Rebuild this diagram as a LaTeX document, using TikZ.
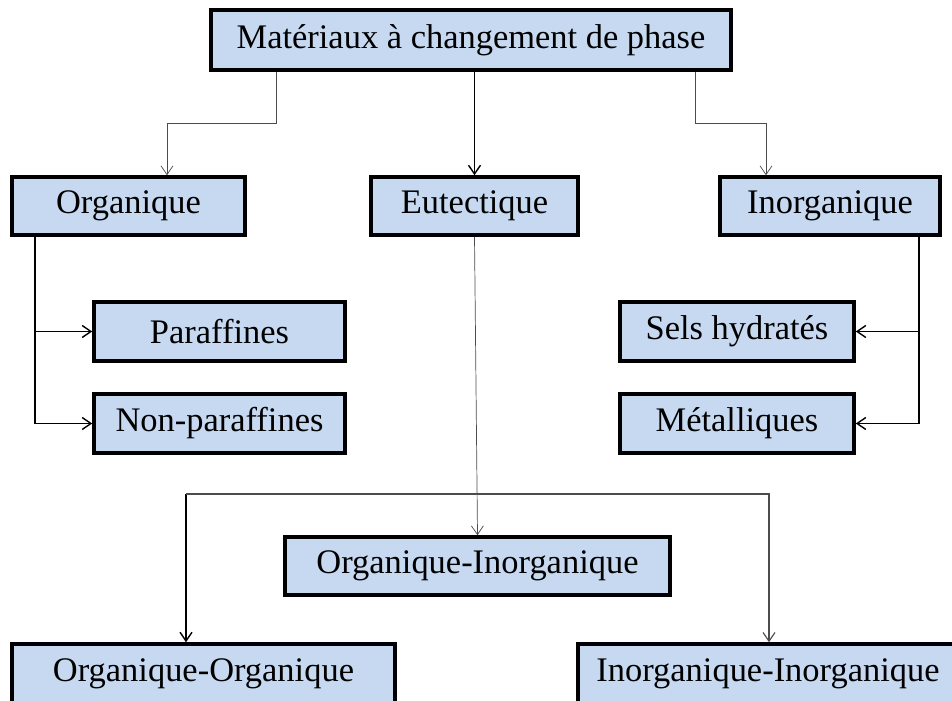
\documentclass[tikz,border=0pt]{standalone}
\usepackage{fontspec}
\setmainfont{Liberation Serif}
\usepackage{tikz}
\usetikzlibrary{arrows.meta}
\definecolor{boxblue}{RGB}{198,217,240}
\tikzset{pcmbox/.style={draw=black, line width=2.5pt, fill=boxblue, inner sep=0pt, minimum height=#1*0.025cm, font=\fontsize{24.5}{28}\selectfont}}
\tikzset{pcmbox/.default=58}
\tikzset{link/.style={line width=0.7pt, -{Straight Barb[length=2.2mm, width=3mm]}}}
\tikzset{linkthin/.style={link, line width=0.5pt, draw=black!70}}

\begin{document}
\begin{tikzpicture}[x=0.025cm, y=-0.025cm]
            \useasboundingbox (0, 0) rectangle (952, 701);
            \node[pcmbox=60, minimum width=13cm] (mcp) at (471, 40) {Matériaux à changement de phase};
            \node[pcmbox, minimum width=5.825cm] (org) at (128.5, 206) {Organique};
            \node[pcmbox, minimum width=5.175cm] (eut) at (474.5, 206) {Eutectique};
            \node[pcmbox, minimum width=5.5cm] (inorg) at (830, 206) {Inorganique};
            \node[pcmbox=59, minimum width=6.275cm] (par) at (219.5, 331.5) {Paraffines};
            \node[pcmbox=59, minimum width=6.275cm] (nonpar) at (219.5, 423.5) {Non-paraffines};
            \node[pcmbox=59, minimum width=5.85cm] (sels) at (737, 331.5) {Sels hydratés};
            \node[pcmbox=59, minimum width=5.85cm] (met) at (737, 423.5) {Métalliques};
            \node[pcmbox, minimum width=9.625cm] (oi) at (477.5, 566) {Organique-Inorganique};
            \node[pcmbox=60, minimum width=9.575cm] (oo) at (203.5, 674) {Organique-Organique};
            \node[pcmbox=60, minimum width=9.5cm] (ii) at (768, 674) {Inorganique-Inorganique};
            % points de coude
            \coordinate (kl) at (276, 123);
            \coordinate (kl2) at (167, 123);
            \coordinate (kr) at (695, 123);
            \coordinate (kr2) at (766, 123);
            \coordinate (vo) at (35, 0);
            \coordinate (vi) at (919, 0);
            \coordinate (bl) at (186, 494);
            \coordinate (br) at (769, 494);
            \draw[linkthin] (mcp.south -| kl) -- (kl) -- (kl2) -- (kl2 |- org.north);
            \draw[link, line width=1pt] (mcp.south -| eut.north) -- (eut.north);
            \draw[linkthin] (mcp.south -| kr) -- (kr) -- (kr2) -- (kr2 |- inorg.north);
            \draw[link, line width=1pt] (org.south -| vo) |- (par.west);
            \draw[link, line width=1pt] (org.south -| vo) |- (nonpar.west);
            \draw[link, line width=1pt] (inorg.south -| vi) |- (sels.east);
            \draw[link, line width=1pt] (inorg.south -| vi) |- (met.east);
            \draw[linkthin] (eut.south) -- (oi.north);
            \draw[link, line width=1pt] (bl) -- (bl |- oo.north);
            \draw[linkthin, line width=0.8pt] (bl) -- (br) -- (br |- ii.north);
        \end{tikzpicture}
\end{document}
